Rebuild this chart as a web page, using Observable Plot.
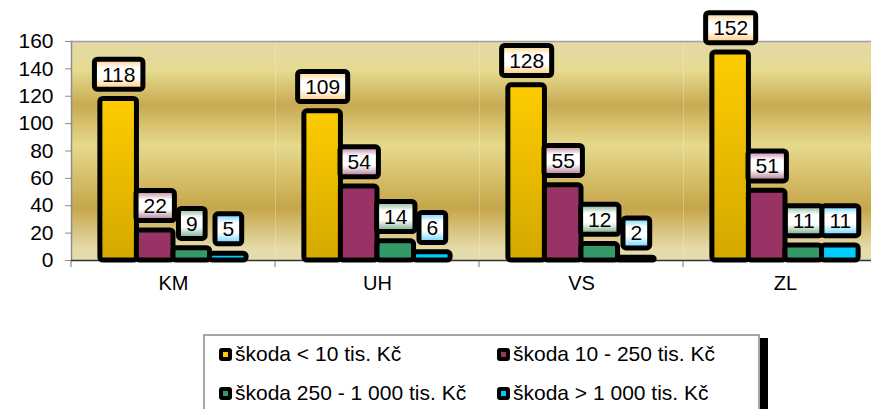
<!DOCTYPE html>
<html><head><meta charset="utf-8">
<script src="https://cdn.jsdelivr.net/npm/d3@7"></script>
<script src="https://cdn.jsdelivr.net/npm/@observablehq/plot@0.6"></script>
<style>
html,body{margin:0;padding:0;background:#fff;overflow:hidden;width:871px;height:409px;}
body{position:relative;font-family:"Liberation Sans",Arial,sans-serif;}
#chart{position:absolute;left:0;top:0;width:889px;}
#chart svg{max-width:none !important;}
#legend{position:absolute;left:203px;top:334px;width:557px;height:120px;box-sizing:border-box;border:2px solid #a6a6a6;background:#fff;box-shadow:8px 4px 0 0 #000;}
.item{position:absolute;display:flex;align-items:center;font-size:21px;line-height:24px;color:#000;white-space:nowrap;}
.sw{width:13px;height:13px;background:#000;border-radius:3px;margin-right:3px;display:flex;align-items:center;justify-content:center;flex:none;}
.sw i{display:block;width:5px;height:5px;}
</style></head><body>
<svg width="0" height="0" style="position:absolute">
<defs>
<linearGradient id="bg" x1="0" y1="0" x2="0" y2="1">
<stop offset="0" stop-color="#e2d9a8"/>
<stop offset="0.13" stop-color="#e6db90"/>
<stop offset="0.29" stop-color="#c8aa52"/>
<stop offset="0.475" stop-color="#e6d98c"/>
<stop offset="0.76" stop-color="#c6a64a"/>
<stop offset="0.95" stop-color="#e6dcaa"/>
<stop offset="1" stop-color="#e3dbb0"/>
</linearGradient>
<linearGradient id="gYellow" x1="0" y1="0" x2="0" y2="1">
<stop offset="0" stop-color="#ffcc00"/>
<stop offset="1" stop-color="#d4a800"/>
</linearGradient>
<linearGradient id="lYellow" x1="0" y1="0" x2="0" y2="1">
<stop offset="0" stop-color="#ffd080"/><stop offset="0.3" stop-color="#fff"/><stop offset="0.62" stop-color="#fff"/><stop offset="1" stop-color="#ffc870"/>
</linearGradient>
<linearGradient id="lPurple" x1="0" y1="0" x2="0" y2="1">
<stop offset="0" stop-color="#b87898"/><stop offset="0.3" stop-color="#fff"/><stop offset="0.62" stop-color="#fff"/><stop offset="1" stop-color="#b0708f"/>
</linearGradient>
<linearGradient id="lGreen" x1="0" y1="0" x2="0" y2="1">
<stop offset="0" stop-color="#7fb08f"/><stop offset="0.3" stop-color="#fff"/><stop offset="0.62" stop-color="#fff"/><stop offset="1" stop-color="#6aa880"/>
</linearGradient>
<linearGradient id="lCyan" x1="0" y1="0" x2="0" y2="1">
<stop offset="0" stop-color="#5ed2ff"/><stop offset="0.3" stop-color="#fff"/><stop offset="0.62" stop-color="#fff"/><stop offset="1" stop-color="#5ed2ff"/>
</linearGradient>
</defs></svg>
<div id="chart"></div>
<div id="legend"></div>
<script>
const categories = ["KM", "UH", "VS", "ZL"];
const series = ["škoda < 10 tis. Kč", "škoda 10 - 250 tis. Kč", "škoda 250 - 1 000 tis. Kč", "škoda > 1 000 tis. Kč"];
const valuesLt10 = [118, 109, 128, 152];
const values10to250 = [22, 54, 55, 51];
const values250to1000 = [9, 14, 12, 11];
const valuesGt1000 = [5, 6, 2, 11];
const yTicks = [0, 20, 40, 60, 80, 100, 120, 140, 160];
const barFills = ["url(#gYellow)", "#993366", "#339966", "#00ccff"];
const labelFills = ["url(#lYellow)", "url(#lPurple)", "url(#lGreen)", "url(#lCyan)"];
const swatchColors = ["#ffcc00", "#993366", "#339966", "#00ccff"];

const seriesValues = [valuesLt10, values10to250, values250to1000, valuesGt1000];
const data = categories.flatMap((c, i) => series.map((s, j) => ({cat: c, series: s, si: j, value: seriesValues[j][i]})));

const NS = "http://www.w3.org/2000/svg";

const plot = Plot.plot({
  width: 889, height: 300,
  marginLeft: 70, marginRight: 1, marginTop: 41, marginBottom: 40,
  style: {fontFamily: "'Liberation Sans', Arial, sans-serif", fontSize: "21px", background: "transparent", overflow: "visible", color: "#000", maxWidth: "none"},
  fx: {domain: categories, padding: 0, label: null},
  x: {domain: series, paddingInner: 0, paddingOuter: 0.79, axis: null, round: false},
  y: {domain: [0, 160], axis: null},
  color: {domain: series, range: barFills},
  marks: [
    Plot.frame({fill: "url(#bg)", stroke: null}),
    Plot.ruleY([160], {stroke: "#a0a0a0", strokeWidth: 1.5}),
    Plot.frame({anchor: "left", stroke: "#8c8c8c", strokeWidth: 1.5, facetAnchor: "left"}),
    Plot.ruleY([0], {stroke: "#333", strokeWidth: 1.5}),
    Plot.axisY({ticks: yTicks, tickSize: 6, tickPadding: 12, stroke: "#8c8c8c", fill: "#000", label: null, fontSize: 21}),
    Plot.axisFx({anchor: "bottom", tickSize: 0, tickPadding: 15, label: null, fontSize: 20, fill: "#000"}),
    Plot.barY(data, {fx: "cat", x: "series", y: "value", fill: "series", stroke: "#000", strokeWidth: 5, rx: 3, strokeLinejoin: "round"}),
    ...series.map((s, j) => Plot.text(data.filter(d => d.si === j), {
      fx: "cat", x: "series", y: "value", text: d => String(d.value), dy: -24,
      fontSize: 21, fill: "#000"
    }))
  ]
});
document.getElementById("chart").append(plot);

// category boundary ticks from the fx and y scales
const fxScale = plot.scale("fx");
const yScale = plot.scale("y");
const y0 = yScale.apply(0);
categories.forEach(c => {
  const x = fxScale.apply(c);
  const l = document.createElementNS(NS, "line");
  l.setAttribute("x1", x); l.setAttribute("x2", x);
  l.setAttribute("y1", y0 + 1); l.setAttribute("y2", y0 + 7);
  l.setAttribute("stroke", "#8c8c8c"); l.setAttribute("stroke-width", 1.2);
  plot.appendChild(l);
});

// label boxes behind value texts
const textGroups = Array.from(plot.querySelectorAll('g[aria-label="text"]'));
textGroups.forEach((g, k) => {
  const j = k % series.length;
  g.querySelectorAll("text").forEach(t => {
    const w = t.getComputedTextLength();
    const bw = w + 15, bh = 30;
    const r = document.createElementNS(NS, "rect");
    let cx = 0, cy = 0;
    const tr = t.getAttribute("transform");
    if (!tr) { cx = +t.getAttribute("x") || 0; cy = +t.getAttribute("y") || 0; }
    r.setAttribute("x", cx - bw / 2);
    r.setAttribute("y", cy - bh / 2 - 0.8);
    r.setAttribute("width", bw);
    r.setAttribute("height", bh);
    r.setAttribute("rx", 3);
    r.setAttribute("fill", labelFills[j]);
    r.setAttribute("stroke", "#000");
    r.setAttribute("stroke-width", 5);
    if (tr) r.setAttribute("transform", tr);
    t.parentNode.insertBefore(r, t);
  });
});

// legend
const legend = document.getElementById("legend");
const legendPos = [[14, 6], [292, 6], [14, 45], [292, 45]];
series.forEach((s, j) => {
  const it = document.createElement("div");
  it.className = "item";
  it.style.left = legendPos[j][0] + "px";
  it.style.top = legendPos[j][1] + "px";
  const sw = document.createElement("span");
  sw.className = "sw";
  const inner = document.createElement("i");
  inner.style.background = swatchColors[j];
  sw.append(inner);
  const tx = document.createElement("span");
  tx.textContent = s;
  it.append(sw, tx);
  legend.append(it);
});
</script>
</body></html>
